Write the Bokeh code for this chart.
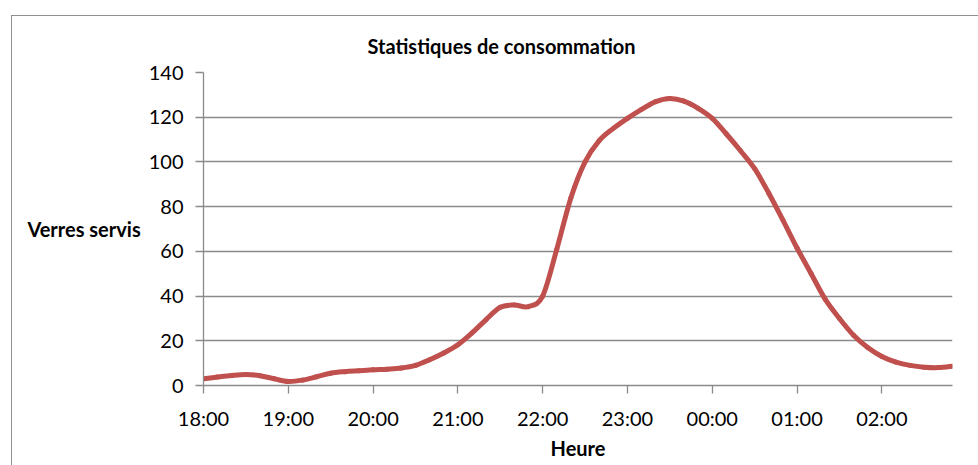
from bokeh.plotting import figure
from bokeh.models import FixedTicker, Range1d
from bokeh.embed import file_html
from bokeh.resources import INLINE

# ---- data (10-minute samples) ----
times = ["18:00", "18:10", "18:20", "18:30", "18:40", "18:50",
         "19:00", "19:10", "19:20", "19:30", "19:40", "19:50",
         "20:00", "20:10", "20:20", "20:30", "20:40", "20:50",
         "21:00", "21:10", "21:20", "21:30", "21:40", "21:50",
         "22:00", "22:10", "22:20", "22:30", "22:40", "22:50",
         "23:00", "23:10", "23:20", "23:30", "23:40", "23:50",
         "00:00", "00:10", "00:20", "00:30", "00:40", "00:50",
         "01:00", "01:10", "01:20", "01:30", "01:40", "01:50",
         "02:00", "02:10", "02:20", "02:30", "02:40", "02:50"]
verres = [3.0, 3.8, 4.5, 4.9, 4.4, 3.0,
          1.8, 2.4, 3.9, 5.5, 6.2, 6.6,
          7.0, 7.3, 7.8, 9.0, 11.5, 14.5,
          18.2, 23.5, 29.5, 35.0, 36.0, 35.3,
          40.0, 61.0, 84.0, 100.0, 109.5, 115.0,
          119.5, 123.5, 127.0, 128.4, 127.2, 124.0,
          119.5, 112.5, 105.0, 97.0, 86.0, 74.0,
          61.5, 50.0, 38.5, 30.0, 22.5, 17.0,
          13.0, 10.5, 9.0, 8.2, 8.0, 8.6]
tick_labels = ["18:00", "19:00", "20:00", "21:00", "22:00",
               "23:00", "00:00", "01:00", "02:00"]
y_ticks = [0, 20, 40, 60, 80, 100, 120, 140]

# hours elapsed since 18:00
def to_hours(t):
    h, m = map(int, t.split(":"))
    if h < 12:
        h += 24
    return (h - 18) + m / 60.0

xs = [to_hours(t) for t in times]
tick_pos = [to_hours(t) for t in tick_labels]

# smooth curve: Catmull-Rom converted to cubic Bezier segments
n = len(xs)
x0, y0, x1, y1, cx0, cy0, cx1, cy1 = [], [], [], [], [], [], [], []
for i in range(n - 1):
    pm = max(i - 1, 0)
    pp = min(i + 2, n - 1)
    x0.append(xs[i]); y0.append(verres[i])
    x1.append(xs[i + 1]); y1.append(verres[i + 1])
    cx0.append(xs[i] + (xs[i + 1] - xs[pm]) / 6.0)
    cy0.append(verres[i] + (verres[i + 1] - verres[pm]) / 6.0)
    cx1.append(xs[i + 1] - (xs[pp] - xs[i]) / 6.0)
    cy1.append(verres[i + 1] - (verres[pp] - verres[i]) / 6.0)

FONT = "Lato"
GRID = "#8a8a8a"

p = figure(frame_width=749, frame_height=313,
           min_border_left=191, min_border_right=26,
           min_border_top=56, min_border_bottom=80,
           x_range=Range1d(0, xs[-1]), y_range=Range1d(0, 140),
           output_backend="svg", toolbar_location=None,
           title="Statistiques de consommation")
# chart-area frame: only its top and left edges fall inside the window
p.margin = (15, 0, 0, 11)
p.styles = {"border-top": "1px solid #8f8f8f", "border-left": "1px solid #8f8f8f"}

p.bezier(x0=x0, y0=y0, x1=x1, y1=y1, cx0=cx0, cy0=cy0, cx1=cx1, cy1=cy1,
         line_color="#C0504D", line_width=5, line_cap="round")

p.outline_line_color = None
p.background_fill_color = "white"
p.border_fill_color = "white"

p.title.text_font = FONT
p.title.text_font_size = "20px"
p.title.text_font_style = "bold"
p.title.text_color = "black"
p.title.text_line_height = 1.0
p.title.align = "left"
p.title.offset = 164
p.title.standoff = 30

p.xgrid.grid_line_color = None
p.ygrid.grid_line_color = GRID
p.ygrid.grid_line_width = 1.3
p.ygrid.ticker = FixedTicker(ticks=y_ticks)

for ax in (p.xaxis[0], p.yaxis[0]):
    ax.axis_line_color = GRID
    ax.axis_line_width = 1.3
    ax.major_tick_line_color = GRID
    ax.major_tick_line_width = 1.3
    ax.major_tick_in = 0
    ax.major_tick_out = 8
    ax.minor_tick_line_color = None
    ax.major_label_text_font = FONT
    ax.major_label_text_font_size = "20px"
    ax.major_label_text_color = "black"
    ax.axis_label_text_font = FONT
    ax.axis_label_text_font_size = "20px"
    ax.axis_label_text_font_style = "bold"
    ax.axis_label_text_color = "black"
    ax.major_label_standoff = 12

p.xaxis.ticker = FixedTicker(ticks=tick_pos)
p.xaxis.major_label_overrides = {tp: lab for tp, lab in zip(tick_pos, tick_labels)}
p.xaxis.axis_label = "Heure"
p.xaxis.axis_label_standoff = 3

p.yaxis.ticker = FixedTicker(ticks=y_ticks)
p.yaxis.axis_label = "Verres servis"
p.yaxis.axis_label_orientation = "horizontal"
p.yaxis.axis_label_standoff = 5

open("out.html", "w").write(file_html(p, INLINE))
